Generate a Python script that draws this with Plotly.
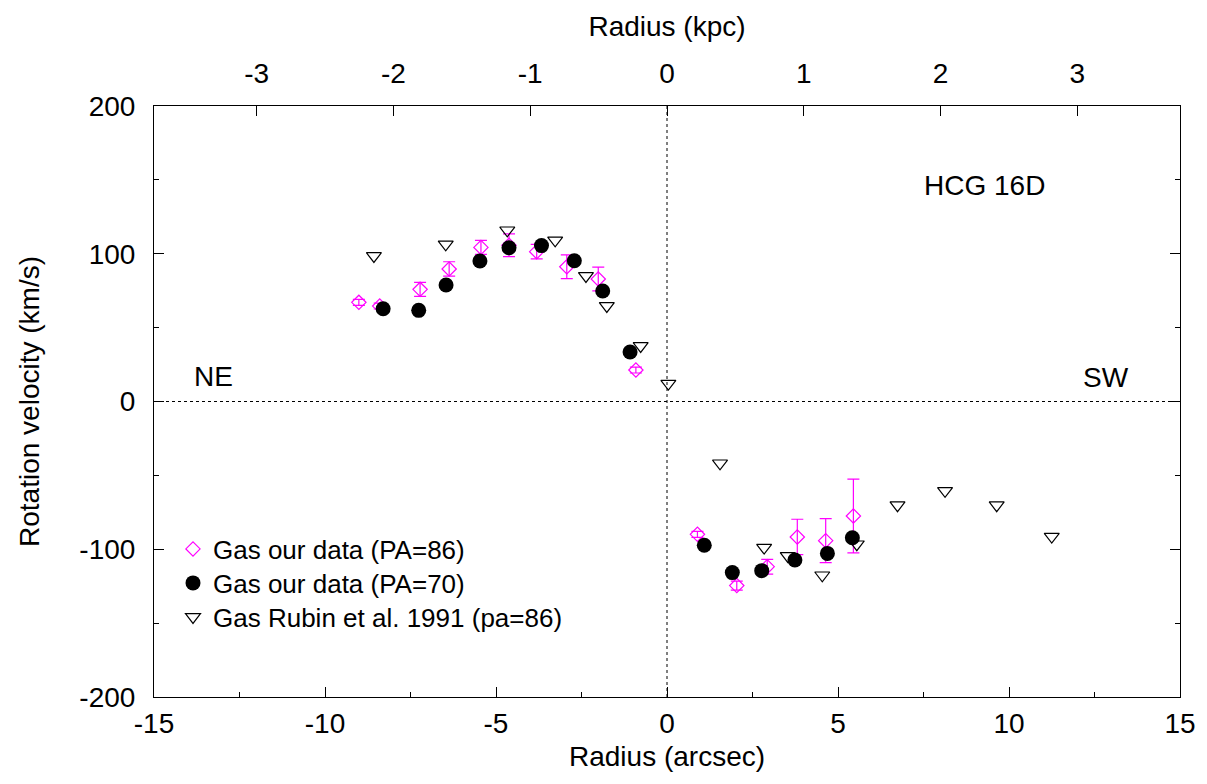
import plotly.graph_objects as go

# PA=86 (our data), magenta open diamonds with error bars
pa86_r = [-9.01, -8.40, -7.22, -6.37, -5.44, -4.62, -3.81, -2.93, -2.01, -0.91,
          0.89, 2.04, 2.93, 3.81, 4.64, 5.45]
pa86_v = [67.1, 64.6, 75.9, 89.7, 104.3, 105.7, 101.4, 91.2, 82.9, 21.3,
          -89.9, -124.6, -111.8, -91.7, -94.2, -77.5]
pa86_e = [2, 2, 4.7, 4.9, 4.7, 7.7, 4.9, 8.1, 8.0, 2,
          2, 3, 5, 12, 14.9, 25]

# PA=70 (our data), black filled circles
pa70_r = [-8.30, -7.26, -6.46, -5.47, -4.62, -3.67, -2.71, -1.88, -1.08,
          1.09, 1.91, 2.77, 3.74, 4.69, 5.42]
pa70_v = [62.8, 61.7, 78.8, 95.1, 104.1, 105.5, 95.3, 74.8, 33.5,
          -97.3, -115.8, -114.5, -107.3, -102.8, -92.2]

# Rubin et al. 1991 (pa=86), open down triangles
rubin_r = [-8.57, -6.47, -4.67, -3.27, -2.37, -1.76, -0.77, 0.04,
           1.55, 2.84, 3.53, 4.54, 5.55, 6.74, 8.13, 9.64, 11.25]
rubin_v = [98.5, 106.4, 115.9, 109.1, 85.0, 64.7, 37.6, 12.1,
           -41.8, -98.9, -104.5, -117.6, -96.6, -70.2, -60.5, -70.2, -91.4]

x_ticks = [-15, -10, -5, 0, 5, 10, 15]
x_ticktext = ["-15", "-10", "-5", "0", "5", "10", "15"]
y_ticks = [-200, -100, 0, 100, 200]
y_ticktext = ["-200", "-100", "0", "100", "200"]
kpc_ticks = [-3, -2, -1, 0, 1, 2, 3]
kpc_ticktext = ["-3", "-2", "-1", "0", "1", "2", "3"]
arcsec_range = [-15, 15]
kpc_per_arcsec = 0.25

FONT = "Liberation Sans, Arial, sans-serif"
MAG = "#ff00ff"

fig = go.Figure()
fig.add_trace(go.Scatter(
    x=pa86_r, y=pa86_v, mode="markers", name="Gas our data (PA=86)", legend="legend",
    marker=dict(symbol="diamond-open", size=11, color=MAG, line=dict(width=1.2, color=MAG)),
    error_y=dict(type="data", array=pa86_e, visible=True, color=MAG, thickness=1.2, width=6),
))
fig.add_trace(go.Scatter(
    x=pa70_r, y=pa70_v, mode="markers", name="Gas our data (PA=70)", legend="legend2",
    marker=dict(symbol="circle", size=15, color="black"),
))
fig.add_trace(go.Scatter(
    x=rubin_r, y=rubin_v, mode="markers", name="Gas Rubin et al. 1991 (pa=86)", legend="legend3",
    marker=dict(symbol="triangle-down-open", size=13, color="black", line=dict(width=1.2, color="black")),
))
# invisible trace to carry the top (kpc) axis
fig.add_trace(go.Scatter(
    x=[arcsec_range[0] * kpc_per_arcsec, arcsec_range[1] * kpc_per_arcsec], y=[0, 0],
    xaxis="x2", mode="markers", marker=dict(opacity=0), showlegend=False, hoverinfo="skip",
))

# dotted zero lines
fig.add_shape(type="line", xref="x", yref="paper", x0=0, x1=0, y0=0, y1=1,
              line=dict(color="black", width=1, dash="3px,3px"), layer="below")
fig.add_shape(type="line", xref="paper", yref="y", x0=0, x1=1, y0=0, y1=0,
              line=dict(color="black", width=1, dash="3px,3px"), layer="below")

fig.add_annotation(x=9.27, y=146, text="HCG 16D", showarrow=False,
                   font=dict(size=28, color="black", family=FONT))
fig.add_annotation(x=-13.26, y=17, text="NE", showarrow=False,
                   font=dict(size=28, color="black", family=FONT))
fig.add_annotation(x=12.84, y=16, text="SW", showarrow=False,
                   font=dict(size=28, color="black", family=FONT))

axis_common = dict(showgrid=False, zeroline=False, showline=True, linecolor="black",
                   linewidth=1, ticks="inside", tickcolor="black", ticklen=10, tickwidth=1,
                   tickfont=dict(size=28, color="black", family=FONT))

leg_common = dict(x=(173 - 154) / 1026, xanchor="left", yanchor="middle",
                  bgcolor="rgba(0,0,0,0)", font=dict(size=26, family=FONT, color="black"),
                  itemwidth=30, borderwidth=0)

fig.update_layout(
    width=1207, height=784,
    margin=dict(l=154, r=27, t=106, b=87),
    paper_bgcolor="white", plot_bgcolor="white",
    font=dict(family=FONT, color="black", size=28),
    showlegend=True,
    legend=dict(y=(697 - 549) / 591, **leg_common),
    legend2=dict(y=(697 - 583) / 591, **leg_common),
    legend3=dict(y=(697 - 617) / 591, **leg_common),
    xaxis=dict(range=arcsec_range, tickvals=x_ticks, ticktext=x_ticktext, mirror=False,
               minor=dict(dtick=2.5, ticklen=5, ticks="inside", tickcolor="black"),
               title=dict(text="Radius (arcsec)", font=dict(size=28, family=FONT), standoff=8),
               ticklabelstandoff=1, **axis_common),
    xaxis2=dict(range=[arcsec_range[0] * kpc_per_arcsec, arcsec_range[1] * kpc_per_arcsec],
                tickvals=kpc_ticks, ticktext=kpc_ticktext, overlaying="x", side="top", mirror=False,
                title=dict(text="Radius (kpc)", font=dict(size=28, family=FONT), standoff=12),
                ticklabelstandoff=11, **axis_common),
    yaxis=dict(range=[-200, 200], tickvals=y_ticks, ticktext=y_ticktext, mirror="ticks",
               minor=dict(dtick=50, ticklen=5, ticks="inside", tickcolor="black"),
               title=dict(text="Rotation velocity (km/s)", font=dict(size=28, family=FONT), standoff=31),
               ticklabelstandoff=12, **axis_common),
)

fig.write_html("out.html")
